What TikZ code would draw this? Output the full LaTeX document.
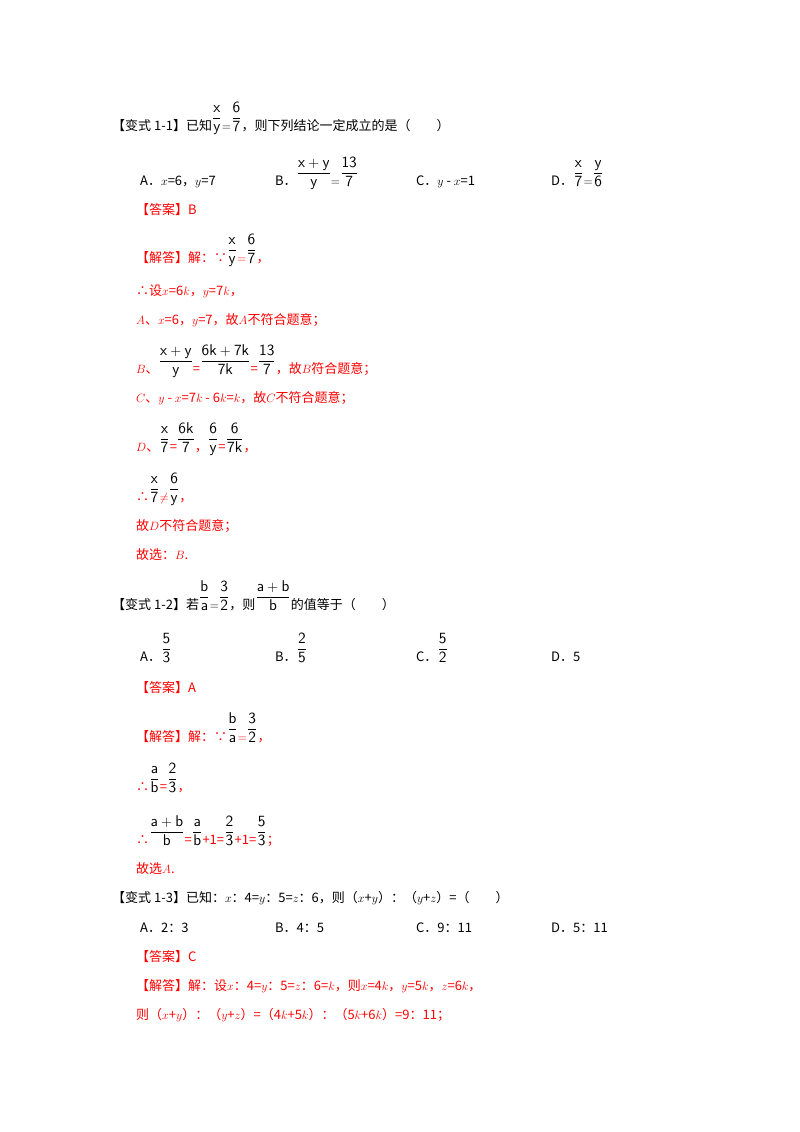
\documentclass[tikz,border=0pt]{standalone}
\usepackage{amsmath}
\usepackage{graphicx}
\usepackage{fontspec}
\newfontfamily\cjk{Noto Sans CJK SC}
\newcommand{\F}[2]{\textcolor{black}{\raisebox{8pt}{\scalebox{1.2}{$\dfrac{\mathsf{#1}}{\mathsf{#2}}$}}}}
\begin{document}
\begin{tikzpicture}[x=1pt,y=-1pt,
  t/.style={anchor=base west,inner sep=0pt,font=\cjk\fontsize{13}{15}\selectfont},
  r/.style={t,text=red}]
\useasboundingbox (0,0) rectangle (800,1132);
\fill[white] (0,0) rectangle (800,1132);
\node[t] (a1) at (112,130) {【变式 1-1】已知\F{x}{y}$=$\F{6}{7}，则下列结论一定成立的是（\quad\quad）};
\node[t] (a2) at (140,185) {A．$x$=6，$y$=7};
\node[t] (a3) at (275,185) {B．\F{x+y}{y}$=$\F{13}{7}};
\node[t] (a4) at (416,185) {C．$y$ - $x$=1};
\node[t] (a5) at (551,185) {D．\F{x}{7}$=$\F{y}{6}};
\node[r] (a6) at (136,214) {【答案】B};
\node[r] (a7) at (136,262) {【解答】解：∵\F{x}{y}$=$\F{6}{7}，};
\node[r] (a8) at (136,295) {∴设$x$=6$k$，$y$=7$k$，};
\node[r] (a9) at (136,324) {$A$、$x$=6，$y$=7，故$A$不符合题意；};
\node[r] (a10) at (136,373) {$B$、\F{x+y}{y}=\F{6k+7k}{7k}=\F{13}{7}，故$B$符合题意；};
\node[r] (a11) at (136,402) {$C$、$y$ - $x$=7$k$ - 6$k$=$k$，故$C$不符合题意；};
\node[r] (a12) at (136,451) {$D$、\F{x}{7}=\F{6k}{7}，\F{6}{y}=\F{6}{7k}，};
\node[r] (a13) at (136,501) {∴\F{x}{7}$\neq$\F{6}{y}，};
\node[r] (a14) at (136,530) {故$D$不符合题意；};
\node[r] (a15) at (136,559) {故选：$B$.};
\node[t] (b1) at (112,609) {【变式 1-2】若\F{b}{a}$=$\F{3}{2}，则\F{a+b}{b}的值等于（\quad\quad）};
\node[t] (b2) at (140,661) {A．\F{5}{3}};
\node[t] (b3) at (275,661) {B．\F{2}{5}};
\node[t] (b4) at (416,661) {C．\F{5}{2}};
\node[t] (b5) at (551,661) {D．5};
\node[r] (b6) at (136,692) {【答案】A};
\node[r] (b7) at (136,741) {【解答】解：∵\F{b}{a}$=$\F{3}{2}，};
\node[r] (b8) at (136,791) {∴\F{a}{b}=\F{2}{3}，};
\node[r] (b9) at (136,844) {∴\F{a+b}{b}=\F{a}{b}+1=\F{2}{3}+1=\F{5}{3}；};
\node[r] (b10) at (136,873) {故选$A$.};
\node[t] (c1) at (112,902) {【变式 1-3】已知：$x$：4=$y$：5=$z$：6，则（$x$+$y$）：（$y$+$z$）=（\quad\quad）};
\node[t] (c2) at (140,932) {A．2：3};
\node[t] (c3) at (275,932) {B．4：5};
\node[t] (c4) at (416,932) {C．9：11};
\node[t] (c5) at (551,932) {D．5：11};
\node[r] (c6) at (136,961) {【答案】C};
\node[r] (c7) at (136,990) {【解答】解：设$x$：4=$y$：5=$z$：6=$k$，则$x$=4$k$，$y$=5$k$，$z$=6$k$，};
\node[r] (c8) at (136,1019) {则（$x$+$y$）：（$y$+$z$）=（4$k$+5$k$）：（5$k$+6$k$）=9：11；};
\end{tikzpicture}
\end{document}
